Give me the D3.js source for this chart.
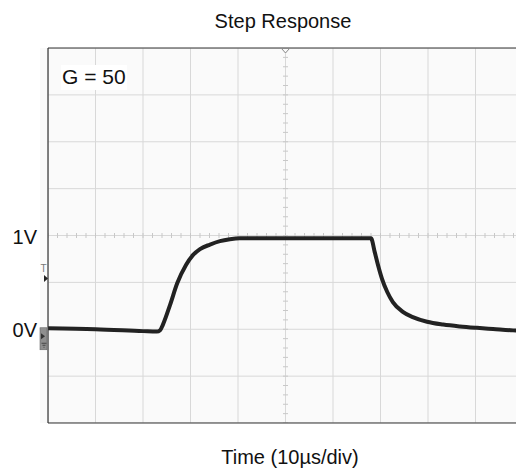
<!DOCTYPE html>
<html>
<head>
<meta charset="utf-8">
<script src="https://cdnjs.cloudflare.com/ajax/libs/d3/7.8.5/d3.min.js"></script>
<style>
  body { margin: 0; background: #fff; }
  text { font-family: "Liberation Sans", Arial, sans-serif; fill: #111; }
</style>
</head>
<body>
<svg id="chart" width="516" height="471"></svg>
<script>
// trace: time in us, level in volts
var timeUs = [0, 10, 20, 22.9, 23.6, 24.2, 25.7, 27.2, 29.05, 30.5, 32.0, 34.1, 36.2, 38.3, 40.4, 50, 60,
              68.0, 68.8, 69.5, 70.3, 71.4, 72.6, 74.7, 76.8, 79.8, 83.2, 86.7, 90.3, 93.7, 97.9, 100];
var volts  = [0.01, 0.0, -0.02, -0.025, -0.01, 0.05, 0.26, 0.49, 0.685, 0.79, 0.855, 0.903, 0.94, 0.96, 0.97, 0.972, 0.972,
              0.97, 0.82, 0.68, 0.54, 0.40, 0.29, 0.185, 0.13, 0.08, 0.05, 0.03, 0.015, 0.003, -0.012, -0.015];

var yTickValues = [1, 0];
var yTickLabels = ["1V", "0V"];
var xGridValues = d3.range(0, 101, 10);   // 10us/div
var yGridValues = d3.range(-1, 3.01, 0.5); // 0.5V/div

var svg = d3.select("#chart");
var pLeft = 48, pTop = 48, pRight = 516, pBottom = 423;

var x = d3.scaleLinear().domain([0, 100]).range([pLeft, pLeft + 475]);
var y = d3.scaleLinear().domain([-1, 3]).range([pBottom, pTop]);

svg.append("defs").append("clipPath").attr("id", "clip")
  .append("rect").attr("x", pLeft).attr("y", pTop).attr("width", pRight - pLeft).attr("height", pBottom - pTop);

// marker column + screen background
svg.append("rect").attr("x", 40).attr("y", pTop).attr("width", 8).attr("height", pBottom - pTop).attr("fill", "#fafafa");
svg.append("rect").attr("x", pLeft).attr("y", pTop).attr("width", pRight - pLeft).attr("height", pBottom - pTop).attr("fill", "#fafafa");

var screen = svg.append("g").attr("clip-path", "url(#clip)");

// grid
screen.selectAll("line.vg").data(xGridValues).enter().append("line")
  .attr("x1", function(d) { return x(d); }).attr("x2", function(d) { return x(d); })
  .attr("y1", pTop).attr("y2", pBottom)
  .attr("stroke", "#d8d8d8").attr("stroke-width", 1);
screen.selectAll("line.hg").data(yGridValues).enter().append("line")
  .attr("x1", pLeft).attr("x2", pRight)
  .attr("y1", function(d) { return y(d); }).attr("y2", function(d) { return y(d); })
  .attr("stroke", "#d8d8d8").attr("stroke-width", 1);

// minor ticks on center axes
var minorX = d3.range(0, 101, 2);
screen.selectAll("line.mx").data(minorX).enter().append("line")
  .attr("x1", function(d) { return x(d); }).attr("x2", function(d) { return x(d); })
  .attr("y1", y(1) - 2.5).attr("y2", y(1) + 2.5)
  .attr("stroke", "#c8c8c8");
var minorY = d3.range(-1, 3.01, 0.1);
screen.selectAll("line.my").data(minorY).enter().append("line")
  .attr("x1", x(50) - 2.5).attr("x2", x(50) + 2.5)
  .attr("y1", function(d) { return y(d); }).attr("y2", function(d) { return y(d); })
  .attr("stroke", "#c8c8c8");

// trace
var line = d3.line()
  .x(function(d, i) { return x(timeUs[i]); })
  .y(function(d, i) { return y(volts[i]); })
  .curve(d3.curveMonotoneX);
screen.append("path").datum(volts)
  .attr("d", line)
  .attr("fill", "none")
  .attr("stroke", "#222")
  .attr("stroke-width", 4)
  .attr("stroke-linejoin", "round");

// frame (right side clipped off)
svg.append("line").attr("x1", pLeft).attr("x2", pRight).attr("y1", pTop).attr("y2", pTop).attr("stroke", "#333").attr("stroke-width", 1.2);
svg.append("line").attr("x1", pLeft).attr("x2", pRight).attr("y1", pBottom).attr("y2", pBottom).attr("stroke", "#333").attr("stroke-width", 1.2);
svg.append("line").attr("x1", pLeft).attr("x2", pLeft).attr("y1", pTop).attr("y2", pBottom).attr("stroke", "#333").attr("stroke-width", 1.2);

// trigger marker at top
svg.append("path")
  .attr("d", "M" + (x(50) - 4) + "," + (pTop + 0.5) + "L" + (x(50) + 4) + "," + (pTop + 0.5) + "L" + x(50) + "," + (pTop + 5) + "Z")
  .attr("fill", "#fafafa").attr("stroke", "#888").attr("stroke-width", 1);

// trigger level marker on left
svg.append("text").attr("x", 43.5).attr("y", 272).attr("font-size", 10).attr("text-anchor", "middle").style("fill", "#777").text("T");
svg.append("path").attr("d", "M44,275L48,278.5L44,282Z").attr("fill", "#222");

// channel ground marker
svg.append("rect").attr("x", 40).attr("y", y(0) - 1.5).attr("width", 7).attr("height", 22)
  .attr("fill", "#8f8f8f").attr("stroke", "#666").attr("stroke-width", 0.6);
svg.append("path").attr("d", "M41," + (y(0) + 4) + "L45," + (y(0) + 7) + "L41," + (y(0) + 10) + "Z").attr("fill", "#333");
svg.append("path").attr("d", "M41.5," + (y(0) + 14) + "h5M42.5," + (y(0) + 16) + "h3M43.5," + (y(0) + 18) + "h1").attr("stroke", "#333").attr("stroke-width", 0.8);

// y labels
svg.selectAll("text.yl").data(yTickValues).enter().append("text")
  .attr("x", 37).attr("y", function(d) { return y(d) + 8; })
  .attr("text-anchor", "end").attr("font-size", 20)
  .text(function(d, i) { return yTickLabels[i]; });

// gain label
svg.append("rect").attr("x", 61).attr("y", 65).attr("width", 66).attr("height", 25).attr("fill", "#fff");
svg.append("text").attr("x", 62).attr("y", 84).attr("font-size", 21).text("G = 50");

// titles
svg.append("text").attr("x", 283).attr("y", 28).attr("text-anchor", "middle").attr("font-size", 20).text("Step Response");
svg.append("text").attr("x", 290).attr("y", 464).attr("text-anchor", "middle").attr("font-size", 20).text("Time (10µs/div)");
</script>
</body>
</html>
